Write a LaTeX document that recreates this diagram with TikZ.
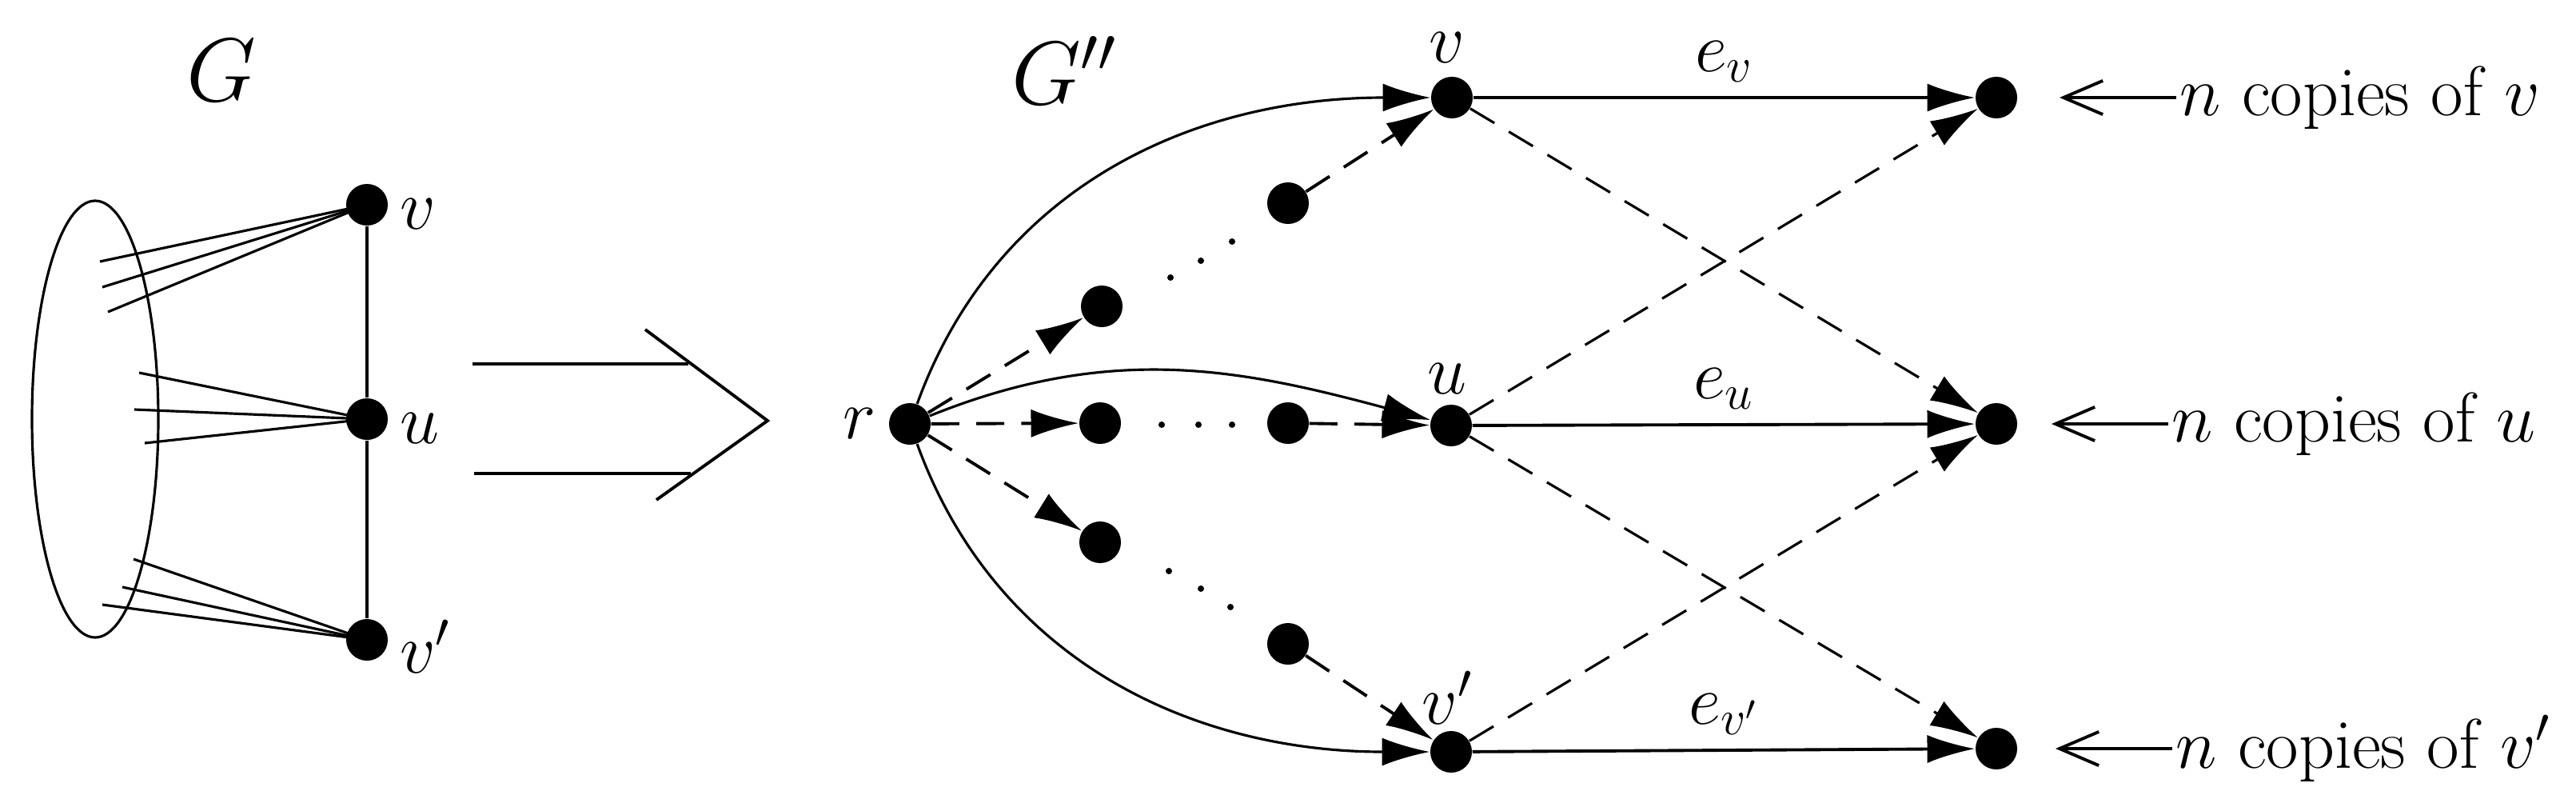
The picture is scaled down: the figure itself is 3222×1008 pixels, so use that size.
\RequirePackage{fix-cm}
\documentclass[tikz,border=0pt]{standalone}
\usetikzlibrary{arrows.meta}
\begin{document}
\begin{tikzpicture}[x=0.01cm,y=-0.01cm,
  dot/.style={circle,fill=black,inner sep=0pt,minimum size=0.52cm},
  sdot/.style={circle,fill=black,inner sep=0pt,minimum size=0.08cm},
  lab/.style={font=\fontsize{25}{30}\selectfont,inner sep=1pt},
  big/.style={font=\fontsize{32}{38}\selectfont},
  ar/.style={-{Latex[length=17pt,width=10pt]},line width=1.1pt},
  dsh/.style={line width=1.1pt,dash pattern=on 10pt off 6pt},
  thin/.style={line width=0.9pt}]
\useasboundingbox (0,0) rectangle (3222,1008);
% left graph
\node[big] (G) at (277,88) {$G$};
\draw[thin] (119,524) ellipse [x radius=79,y radius=273];
\node[dot] (lv) at (459,256) {};
\node[dot] (lu) at (459,524) {};
\node[dot] (lw) at (459,800) {};
\node[lab,anchor=west] at (496,268) {$v$};
\node[lab,anchor=west] at (496,536) {$u$};
\node[lab,anchor=west] at (496,808) {$v'$};
\draw[line width=1.1pt] (lv) -- (lu) -- (lw);
\foreach \p/\n in {{(125,327)}/lv,{(128,359)}/lv,{(135,390)}/lv,{(174,466)}/lu,{(168,512)}/lu,{(181,554)}/lu,{(167,699)}/lw,{(153,734)}/lw,{(128,756)}/lw}
  \draw[thin] \p -- (\n.center);
% big arrow
\draw[line width=1.1pt] (591,455) -- (861,455);
\draw[line width=1.1pt] (593,592) -- (864,592);
\draw[line width=1.1pt] (807,412) -- (960,526) -- (821,625);
% right graph
\node[big] (G2) at (1331,88) {$G''$};
\node[dot] (r) at (1138,530) {};
\node[lab,anchor=east] at (1100,530) {$r$};
\node[dot] (v) at (1816,122) {};
\node[dot] (u) at (1815,532) {};
\node[dot] (w) at (1815,940) {};
\node[lab] at (1810,60) {$v$};
\node[lab] at (1810,474) {$u$};
\node[lab] at (1810,872) {$v'$};
\node[dot] (a1) at (1378,383) {};
\node[dot] (a2) at (1611,254) {};
\node[dot] (b1) at (1376,529) {};
\node[dot] (b2) at (1611,529) {};
\node[dot] (c1) at (1376,678) {};
\node[dot] (c2) at (1611,805) {};
\foreach \x/\y in {1464/347,1502/326,1541/302,1453/531,1499/531,1541/531,1462/714,1502/736,1539/759}
  \node[sdot] at (\x,\y) {};
\node[dot] (rv) at (2497,122) {};
\node[dot] (ru) at (2497,530) {};
\node[dot] (rw) at (2497,936) {};
\draw[ar,line width=0.9pt] (r) to[out=70,in=180] (v);
\draw[ar,line width=0.9pt] (r) to[out=22,in=165] (u);
\draw[ar,line width=0.9pt] (r) to[out=-70,in=180] (w);
\draw[ar,dsh] (r) -- (a1);
\draw[ar,dsh] (a2) -- (v);
\draw[ar,dsh] (r) -- (b1);
\draw[ar,dsh] (b2) -- (u);
\draw[ar,dsh] (r) -- (c1);
\draw[ar,dsh] (c2) -- (w);
\draw[ar] (v) -- node[lab,above=4pt] {$e_v$} (rv);
\draw[ar] (u) -- node[lab,above=4pt] {$e_u$} (ru);
\draw[ar] (w) -- node[lab,above=4pt] {$e_{v'}$} (rw);
\draw[ar,dsh,line width=0.9pt] (v) -- (ru);
\draw[ar,dsh,line width=0.9pt] (u) -- (rv);
\draw[ar,dsh,line width=0.9pt] (u) -- (rw);
\draw[ar,dsh,line width=0.9pt] (w) -- (ru);
\node[lab,anchor=west] (t1) at (2722,122) {$n$ copies of $v$};
\node[lab,anchor=west] (t2) at (2712,530) {$n$ copies of $u$};
\node[lab,anchor=west] (t3) at (2717,936) {$n$ copies of $v'$};
\draw[-{Straight Barb[length=14pt,width=12pt]},line width=1.1pt] (t1.west) -- ++(-146,0) coordinate (h1);
\draw[-{Straight Barb[length=14pt,width=12pt]},line width=1.1pt] (t2.west) -- ++(-146,0) coordinate (h2);
\draw[-{Straight Barb[length=14pt,width=12pt]},line width=1.1pt] (t3.west) -- ++(-146,0) coordinate (h3);
\end{tikzpicture}
\end{document}
